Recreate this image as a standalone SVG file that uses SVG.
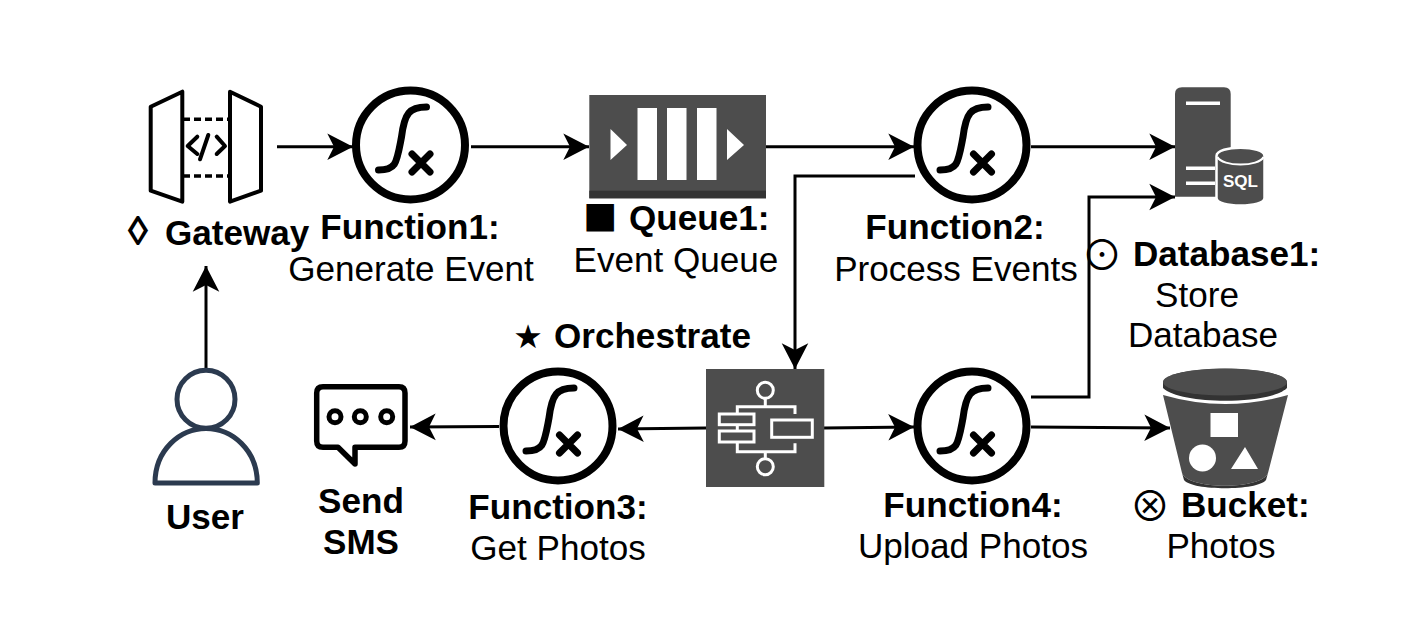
<svg xmlns="http://www.w3.org/2000/svg" width="1417" height="622" viewBox="0 0 1417 622">
<style>
text{font-family:"Liberation Sans",Arial,sans-serif;font-size:35.100px;fill:#000}
.b{font-weight:bold}
.m{text-anchor:middle}
.sym{font-family:"DejaVu Sans",sans-serif;text-anchor:middle}
.cjk{font-family:"Noto Sans CJK SC",sans-serif;text-anchor:middle;font-size:41px}
.c{fill:none;stroke:#000;stroke-width:3;marker-end:url(#arrow)}
.ring{fill:#fff;stroke:#000;stroke-width:8}
.int{fill:none;stroke:#000;stroke-width:7;stroke-linecap:round}
.dark{fill:#4d4d4d}
.w{fill:#fff}
.ws{fill:none;stroke:#fff;stroke-width:3}
.gw{fill:none;stroke:#000;stroke-width:4;stroke-linejoin:round}
.dot{fill:none;stroke:#000;stroke-width:5}
</style>
<defs>
<marker id="arrow" markerUnits="userSpaceOnUse" markerWidth="28" markerHeight="28" refX="26" refY="14" orient="auto" viewBox="0 0 28 28">
<path d="M0.3,0.7 L26,14 L0.3,27.3 L7,14 Z" fill="#000"/>
</marker>
<g id="fn">
<circle class="ring" r="54.5"/>
<path class="int" d="M-32,25 C-14,25 -14,18 -9,-8 C-6,-32 -1,-38 16,-38"/>
<path class="int" d="M1.5,9 L19.5,27 M19.5,9 L1.5,27"/>
</g>
</defs>
<g id="connectors">
<path class="c" d="M277,146.700 H353"/>
<path class="c" d="M471,146.700 H589"/>
<path class="c" d="M766,146.700 H914"/>
<path class="c" d="M1031,146.700 H1175"/>
<path class="c" d="M915,176 H795 V369"/>
<path class="c" d="M1031,397 H1089 V197 H1175"/>
<path class="c" d="M1031,427 L1170,428"/>
<path class="c" d="M824,428 L914,427"/>
<path class="c" d="M706,428 L618,429"/>
<path class="c" d="M499,426.500 L410,427"/>
<path class="c" d="M206,368 V266"/>
</g>
<g id="gateway">
<path class="gw" d="M150.700,106.700 L182.300,91.700 V201.700 L150.700,190.700 Z"/>
<path class="gw" d="M230,91.700 L261,106.700 V190.700 L230,201.700 Z"/>
<path d="M183,119.300 H230 M183,176 H230" fill="none" stroke="#000" stroke-width="3.500" stroke-dasharray="7 4"/>
<path class="gw" stroke-linecap="round" d="M197.300,136.700 L187.700,146 L197.300,154 M208.300,135 L200,159.300 M216.700,136.700 L225,146 L216.700,154"/>
<text class="b m" x="138" y="245" style="font-size:41px">◊</text>
<text class="b" x="165" y="245">Gateway</text>
</g>
<g id="function1">
<use href="#fn" x="410.500" y="145"/>
<text class="b m" x="410" y="239">Function1:</text>
<text class="m" x="411" y="281">Generate Event</text>
</g>
<g id="queue1">
<rect class="dark" x="589.300" y="95" width="176.700" height="103.300"/>
<rect x="589.300" y="190.700" width="176.700" height="7.600" fill="#333"/>
<rect class="w" x="637.500" y="108" width="19.500" height="72"/>
<rect class="w" x="667" y="108" width="19.500" height="72"/>
<rect class="w" x="697" y="108" width="19.500" height="72"/>
<path class="w" d="M610.500,129 L627,145 L610.500,160 Z M727,129 L744,145 L727,160 Z"/>
<text class="sym" x="600" y="227" style="font-size:36px">■</text>
<text class="b" x="629" y="230">Queue1:</text>
<text class="m" x="676" y="272">Event Queue</text>
</g>
<g id="function2">
<use href="#fn" x="972" y="145"/>
<text class="b m" x="955" y="239">Function2:</text>
<text class="m" x="956" y="281">Process Events</text>
</g>
<g id="database1">
<path class="dark" d="M1175,196.700 V94 Q1175,87.300 1182,87.300 H1224 Q1230.700,87.300 1230.700,94 V196.700 Z"/>
<path class="w" d="M1186,101.500 H1220 V105 H1186 Z M1186,166.500 H1215 V170 H1186 Z M1186,181.500 H1215 V185 H1186 Z"/>
<path class="dark" stroke="#fff" stroke-width="2.500" d="M1216.500,156 C1216.500,145 1264.500,145 1264.500,156 V198 C1264.500,208 1216.500,208 1216.500,198 Z"/>
<path d="M1217.500,157 C1222,167 1259,167 1263.500,157" fill="none" stroke="#fff" stroke-width="2"/>
<text class="b m" x="1240.500" y="187" textLength="35" lengthAdjust="spacingAndGlyphs" style="font-size:17px;fill:#fff">SQL</text>
<text class="cjk" x="1102" y="270">⊙</text>
<text class="b" x="1133" y="266">Database1:</text>
<text class="m" x="1197" y="307">Store</text>
<text class="m" x="1203" y="347">Database</text>
</g>
<g id="orchestrate">
<rect class="dark" x="706" y="369" width="118.300" height="118"/>
<circle class="ws" cx="765.300" cy="390.300" r="8"/>
<circle class="ws" cx="765.300" cy="466.700" r="8"/>
<path class="ws" d="M765.300,398.300 V406.700 M737.300,414 V406.700 H795 V414 M737.300,424.700 V431 M737.300,442 V451.700 H795 V443.300 M765.300,451.700 V458.700"/>
<rect class="ws" x="719.300" y="414" width="34.700" height="10.700"/>
<rect class="ws" x="719.300" y="431" width="34.700" height="11"/>
<rect class="ws" x="771.700" y="420" width="40.600" height="17.300"/>
<text class="sym" x="528" y="348" style="font-size:33px">★</text>
<text class="b" x="554" y="348">Orchestrate</text>
</g>
<g id="function3">
<use href="#fn" x="558" y="426"/>
<text class="b m" x="558" y="519">Function3:</text>
<text class="m" x="558" y="560">Get Photos</text>
</g>
<g id="function4">
<use href="#fn" x="972" y="426"/>
<text class="b m" x="973" y="517">Function4:</text>
<text class="m" x="973" y="558">Upload Photos</text>
</g>
<g id="bucket">
<path class="dark" d="M1163,395 Q1225,413 1288,395 L1268,473 C1262,490 1188,490 1182,473 Z"/>
<path d="M1182,473 C1188,490 1262,490 1268,473 L1266,480 C1258,491 1192,491 1184,480 Z" fill="#333"/>
<path d="M1163,383 C1163,364 1287,364 1287,383 V388 C1270,405 1180,405 1163,388 Z" fill="#333"/>
<ellipse class="dark" cx="1225" cy="382" rx="62" ry="13.500"/>
<path class="w" d="M1210.500,413 H1238 V437 H1210.500 Z M1231,469 H1258 L1245,447 Z"/>
<circle class="w" cx="1202.500" cy="458" r="13.500"/>
<text class="cjk" x="1150" y="521">⊗</text>
<text class="b" x="1181" y="517">Bucket:</text>
<text class="m" x="1221" y="558">Photos</text>
</g>
<g id="user">
<circle cx="206" cy="399.300" r="29" fill="none" stroke="#2b3a4f" stroke-width="5"/>
<path d="M155,483 C155,450 180,428.500 206,428.500 C232,428.500 257.300,450 257.300,483 Z" fill="none" stroke="#2b3a4f" stroke-width="5" stroke-linejoin="round"/>
<text class="b m" x="205" y="529">User</text>
</g>
<g id="sms">
<path d="M323,386.700 H399 Q405,386.700 405,393 V441 Q405,447.300 399,447.300 H355 V464 L338,447.300 H323 Q316.700,447.300 316.700,441 V393 Q316.700,386.700 323,386.700 Z" fill="none" stroke="#000" stroke-width="5.500" stroke-linejoin="round"/>
<circle class="dot" cx="335" cy="416.700" r="6"/>
<circle class="dot" cx="360.300" cy="416.700" r="6"/>
<circle class="dot" cx="386.700" cy="416.700" r="6"/>
<text class="b m" x="361" y="513">Send</text>
<text class="b m" x="361" y="554">SMS</text>
</g>
</svg>
